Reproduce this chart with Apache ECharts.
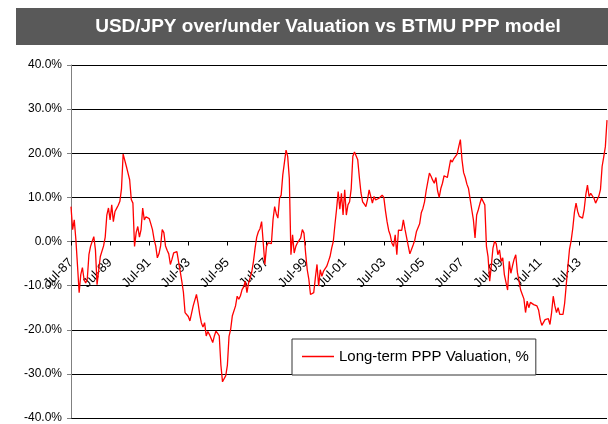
<!DOCTYPE html>
<html>
<head>
<meta charset="utf-8">
<script src="https://cdn.jsdelivr.net/npm/echarts@6/dist/echarts.min.js"></script>
<style>
html,body{margin:0;padding:0;background:#fff;}
#chart{width:608px;height:424px;}
</style>
</head>
<body>
<div id="chart"></div>
<script>
// Monthly series starting Jul-1987
const startYear = 1987;
const startMonth = 6; // July (0-based)
const monthNames = ['Jan','Feb','Mar','Apr','May','Jun','Jul','Aug','Sep','Oct','Nov','Dec'];

const valuation = [
  7.9, 2.7, 4.9, 0.4, -5.5, -11.6, -7.5, -5.9, -8.6, -9.4,
  -8.5, -3.0, -1.1, 0.0, 1.1, -1.9, -9.8, -6.5, -3.4, -3.2,
  -1.0, 1.0, 6.0, 7.6, 4.9, 8.3, 4.5, 6.8, 7.5, 8.2,
  9.1, 12.0, 19.8, 20.0, 17.0, 15.5, 14.0, 9.5, 8.7, -1.1,
  2.0, 3.4, 1.0, 2.7, 7.6, 4.9, 5.6, 5.6, 5.2, 4.0,
  2.7, 0.5, -1.0, -3.7, -2.8, -1.0, 2.7, 2.0, -1.0, -2.0,
  -2.8, -5.2, -4.0, -2.6, -2.4, -2.3, -2.2, -6.7, -9.0, -11.5,
  -16.1, -16.5, -17.0, -18.0, -17.7, -14.6, -14.3, -12.0, -14.0, -16.5,
  -18.4, -19.4, -18.4, -21.4, -20.4, -21.1, -20.7, -22.9, -21.4, -20.3,
  -20.8, -21.4, -28.0, -31.8, -31.5, -30.4, -28.0, -21.5, -19.9, -16.9,
  -16.9, -14.6, -12.4, -13.1, -12.3, -10.9, -10.3, -9.0, -11.6, -9.4,
  -8.2, -6.8, -4.5, -1.5, 1.0, 2.2, 2.9, 4.5, -0.3, -5.2,
  -1.1, -0.3, -0.3, -0.5, 4.9, 7.9, 6.3, 5.3, 9.8, 10.5,
  15.1, 15.5, 20.7, 19.3, 14.3, -3.0, 1.5, -2.6, -1.1, -0.3,
  0.1, 0.8, 2.7, 1.9, -2.6, -6.4, -8.6, -12.0, -12.4, -11.6,
  -8.2, -5.2, -10.1, -6.4, -7.9, -6.7, -7.1, -5.6, -4.5, -3.4,
  -1.5, 0.0, 3.8, 7.3, 11.3, 7.3, 10.9, 6.0, 11.7, 6.0,
  8.3, 9.0, 12.0, 19.3, 20.3, 20.5, 18.5, 14.5, 11.0, 9.0,
  8.5, 7.9, 9.5, 11.7, 11.5, 8.7, 10.2, 9.4, 9.6, 9.8,
  10.0, 10.5, 10.0, 7.0, 4.5, 2.5, 1.4, -0.4, -1.1, 1.5,
  -3.0, 2.6, 2.9, 2.5, 4.9, 2.8, 2.9, -1.0, -2.8, -2.4,
  -0.8, 0.3, 2.2, 2.5, 4.0, 6.5, 7.5, 9.0, 11.5, 13.5,
  15.5, 14.8, 13.9, 13.2, 14.5, 11.5, 10.0, 12.0, 13.2, 14.9,
  15.3, 14.5, 14.5, 18.5, 18.0, 18.8, 19.0, 19.8, 21.5, 23.1,
  18.5, 15.6, 14.5, 13.0, 12.0, 11.8, 7.2, 4.9, 0.8, 6.0,
  7.2, 8.6, 9.8, 10.2, 8.3, -1.1, -3.5, -9.0, -5.5, -1.5,
  0.0, -0.5, -3.0, -1.9, -4.5, -3.7, -7.5, -7.5, -11.0, -4.5,
  -7.2, -5.5, -4.0, -3.0, -7.0, -9.0, -11.0, -12.0, -13.0, -16.1,
  -13.5, -15.0, -13.8, -13.8, -14.3, -14.6, -14.6, -15.5, -17.7, -19.0,
  -18.8, -17.7, -18.0, -17.5, -18.8, -16.1, -12.4, -14.6, -16.1, -15.0,
  -16.5, -16.2, -16.5, -14.0, -9.8, -5.6, -1.7, 0.2, 3.0, 6.6,
  8.7, 6.8, 5.7, 5.3, 5.3, 7.3, 10.6, 12.8, 10.2, 10.9,
  10.5, 9.8, 8.7, 8.3, 10.3, 11.8, 17.0, 19.2, 21.5, 27.5
];

const yTicks = [-40, -30, -20, -10, 0, 10, 20, 30, 40];
const titleText = 'USD/JPY over/under Valuation vs BTMU PPP model';
const seriesName = 'Long-term PPP Valuation, %';

const categories = [];
for (let i = 0; i < valuation.length; i++) {
  const m = startMonth + i;
  const y = startYear + Math.floor(m / 12);
  categories.push(monthNames[m % 12] + '-' + String(y % 100).padStart(2, '0'));
}

const W = 608, H = 424;
const gridTop = 65, gridBottom = 6;
const plotH = H - gridTop - gridBottom;
// move the category axis up to where the value axis is 0
const zeroOffset = -plotH * (0 - yTicks[0]) / (yTicks[yTicks.length - 1] - yTicks[0]);

const chart = echarts.init(document.getElementById('chart'), null, {renderer: 'canvas'});
const font = 'Liberation Sans, Arial, sans-serif';
const showEvery24 = (idx) => idx % 24 === 0;

chart.setOption({
  animation: false,
  backgroundColor: '#ffffff',
  textStyle: {fontFamily: font},
  graphic: [
    {type: 'rect', left: 16, top: 8, shape: {width: 592, height: 37}, style: {fill: '#595959'}, z: 10},
    {type: 'text', x: 328, y: 27, z: 11,
     style: {text: titleText, fill: '#ffffff', font: 'bold 19px ' + font, textAlign: 'center', textVerticalAlign: 'middle'}}
  ],
  grid: {left: 71, right: 1, top: gridTop, bottom: gridBottom, containLabel: false, outerBoundsMode: 'none'},
  legend: {
    data: [seriesName],
    left: 292, top: 339,
    orient: 'horizontal',
    icon: 'rect',
    itemWidth: 32, itemHeight: 1.5,
    itemGap: 5,
    padding: [10, 7, 11, 10],
    borderColor: '#333', borderWidth: 1,
    backgroundColor: '#ffffff',
    textStyle: {fontFamily: font, fontSize: 15, color: '#000'},
    z: 20
  },
  xAxis: {
    type: 'category',
    data: categories,
    boundaryGap: false,
    position: 'bottom',
    offset: zeroOffset,
    axisLine: {onZero: false, lineStyle: {color: '#000', width: 1}},
    axisTick: {show: true, interval: showEvery24, length: 4, lineStyle: {color: '#000'}},
    axisLabel: {interval: showEvery24, rotate: 45, margin: 19, fontSize: 13, color: '#000', fontFamily: font},
    splitLine: {show: false}
  },
  yAxis: {
    type: 'value',
    min: yTicks[0], max: yTicks[yTicks.length - 1], interval: 10,
    axisLine: {show: true, lineStyle: {color: '#808080'}},
    axisTick: {show: true, length: 4, lineStyle: {color: '#808080'}},
    axisLabel: {margin: 9, fontSize: 12, color: '#000', fontFamily: font,
      formatter: (v) => v.toFixed(1) + '%'},
    splitLine: {show: true, lineStyle: {color: '#000', width: 1}}
  },
  series: [{
    name: seriesName,
    type: 'line',
    data: valuation,
    showSymbol: false,
    symbol: 'none',
    lineStyle: {color: '#ff0000', width: 1.3},
    itemStyle: {color: '#ff0000'}
  }]
});
</script>
</body>
</html>
